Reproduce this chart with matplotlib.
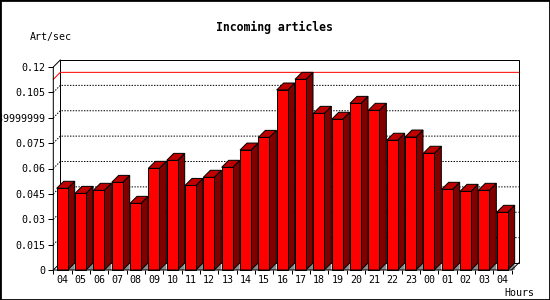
import matplotlib
matplotlib.use("Agg")
import matplotlib.pyplot as plt
from matplotlib.patches import Polygon, Rectangle

hours = ["04", "05", "06", "07", "08", "09", "10", "11", "12", "13", "14", "15",
         "16", "17", "18", "19", "20", "21", "22", "23", "00", "01", "02", "03", "04"]
values = [0.0483, 0.0453, 0.0471, 0.0518, 0.0394, 0.0601, 0.0648, 0.0500, 0.0548,
          0.0607, 0.0709, 0.0784, 0.1064, 0.1127, 0.0926, 0.0891, 0.0985, 0.0944,
          0.0767, 0.0786, 0.0690, 0.0477, 0.0465, 0.0471, 0.0341]
yticks = [0, 0.015, 0.03, 0.045, 0.06, 0.075, 0.09, 0.105, 0.12]
ytick_labels = ["0", "0.015", "0.03", "0.045", "0.06", "0.075", "0.089999999", "0.105", "0.12"]

FONT = "DejaVu Sans Mono"
W, H = 550, 300
fig = plt.figure(figsize=(W / 100, H / 100), dpi=100)
fig.patch.set_facecolor("white")

ax_l, ax_b, ax_w, ax_h = 53.3, 30.0, 458.3, 203.0
ax = fig.add_axes([ax_l / W, ax_b / H, ax_w / W, ax_h / H])
ax.set_facecolor("none")
n = len(values)
ax.set_xlim(-0.5, n - 0.5)
ax.set_ylim(0, 0.12)
for s in ax.spines.values():
    s.set_visible(False)

depth_px = 7.0
dx = depth_px / (ax_w / n)
dy = depth_px / (ax_h / 0.12)
px = 1 / 1.3889  # 1 pixel in points (0.72)
lw = 0.72

x0, x1 = -0.5, n - 0.5
# back wall
ax.add_patch(Rectangle((x0 + dx, dy), n, 0.12, fill=False, edgecolor="black",
                       linewidth=lw, clip_on=False, zorder=1))
# dotted grid lines on back wall
for v in yticks[1:-1]:
    ax.plot([x0, x0 + dx, x1 + dx], [v, v + dy, v + dy], color="black",
            linewidth=lw, linestyle=(0, (1.4, 1.4)), clip_on=False, zorder=1)
# max line
vmax = max(values)
ax.plot([x0, x0 + dx, x1 + dx], [vmax, vmax + dy, vmax + dy], color="#ff0000",
        linewidth=lw, clip_on=False, zorder=1.5)
# left axis and floor edges
ax.plot([x0 + dx, x0, x0, x1, x1 + dx], [0.12 + dy, 0.12, 0, 0, dy],
        color="black", linewidth=lw, clip_on=False, zorder=5)
ax.plot([x0, x0 + dx], [0, dy], color="black", linewidth=lw, clip_on=False, zorder=1)

# bars
bw = 0.6
for i, v in enumerate(values):
    c = i - 0.015
    a, b = c - bw / 2, c + bw / 2
    # floor shadow triangle
    ax.add_patch(Polygon([(b, 0), (b + dx, dy), (b + dx, 0)], closed=True,
                         facecolor="#8c8c8c", edgecolor="none", clip_on=False, zorder=2))
    # side face
    ax.add_patch(Polygon([(b, 0), (b, v), (b + dx, v + dy), (b + dx, dy)], closed=True,
                         facecolor="#800000", edgecolor="black", linewidth=lw,
                         clip_on=False, zorder=3))
    # top face
    ax.add_patch(Polygon([(a, v), (a + dx, v + dy), (b + dx, v + dy), (b, v)], closed=True,
                         facecolor="#c00000", edgecolor="black", linewidth=lw,
                         clip_on=False, zorder=3))
ax.bar([i - 0.015 for i in range(n)], values, width=bw, color="#ff0000",
       edgecolor="black", linewidth=lw, zorder=4, clip_on=False)

# ticks
ax.set_yticks(yticks)
ax.set_yticklabels(ytick_labels, fontfamily=FONT, fontsize=7.2)
ax.tick_params(axis="y", direction="out", length=3.5, width=lw, pad=2.2, left=True)
ax.set_xticks([x0 + k for k in range(n + 1)])
ax.set_xticklabels([])
ax.set_xticks(range(n), minor=True)
ax.set_xticklabels(hours, minor=True, fontfamily=FONT, fontsize=7.2)
ax.tick_params(axis="x", which="major", direction="out", length=3.2, width=lw)
ax.tick_params(axis="x", which="minor", length=0, pad=3.6)

# texts
fig.text(274 / W, 1 - 27 / H, "Incoming articles", ha="center", va="center",
         fontfamily=FONT, fontsize=8.3, fontweight="bold")
fig.text(30 / W, 1 - 37 / H, "Art/sec", ha="left", va="center",
         fontfamily=FONT, fontsize=7.2)
fig.text(504 / W, 1 - 292.5 / H, "Hours", ha="left", va="center",
         fontfamily=FONT, fontsize=7.2)

# outer frame
fig.add_artist(Rectangle((0, 0), 1, 1, transform=fig.transFigure, fill=False,
                         edgecolor="black", linewidth=2.0, clip_on=False))

fig.savefig("out.png", dpi=100)
